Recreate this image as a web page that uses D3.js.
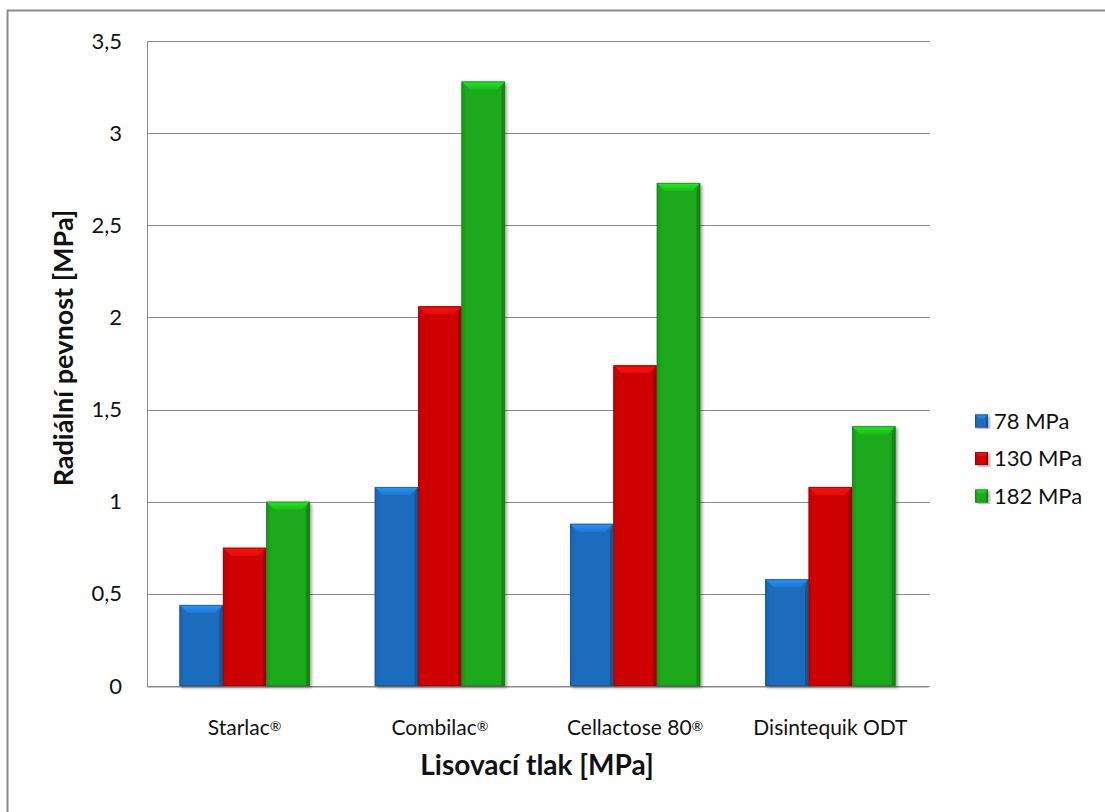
<!DOCTYPE html>
<html>
<head>
<meta charset="utf-8">
<script src="https://cdn.jsdelivr.net/npm/d3@7"></script>
<style>
  html, body { margin: 0; padding: 0; background: #fff; }
  svg { display: block; }
  text { font-family: Lato, "Open Sans", sans-serif; fill: #111; }
</style>
</head>
<body>
<svg id="chart" width="1105" height="812"></svg>
<script>
// Radial tensile strength of tablets by filler and compression pressure
const categories = ["Starlac®", "Combilac®", "Cellactose 80®", "Disintequik ODT"];
const seriesNames = ["78 MPa", "130 MPa", "182 MPa"];
const values78 = [0.44, 1.08, 0.88, 0.58];
const values130 = [0.75, 2.06, 1.74, 1.08];
const values182 = [1.00, 3.28, 2.73, 1.41];
const yTicks = [0, 0.5, 1, 1.5, 2, 2.5, 3, 3.5];
const seriesColors = ["#1d6cbd", "#cf0606", "#1aaa1a"];

const seriesValues = [values78, values130, values182];

const svg = d3.select("#chart");
const W = 1105, H = 812;
const plot = { left: 147, right: 928, top: 41, bottom: 686 };

// Outer chart frame (runs off the right and bottom edges)
svg.append("rect")
  .attr("x", 7.5).attr("y", 10.5)
  .attr("width", W + 10).attr("height", H + 10)
  .attr("fill", "#fff")
  .attr("stroke", "#8a8a8a").attr("stroke-width", 2);

const x0 = d3.scaleBand().domain(categories)
  .range([plot.left, plot.right])
  .paddingInner(1 / 3).paddingOuter(1 / 6);
const x1 = d3.scaleBand().domain(seriesNames).range([0, x0.bandwidth()]);
const y = d3.scaleLinear().domain([0, 3.5]).range([plot.bottom, plot.top]);

// Gridlines
svg.append("g").selectAll("line").data(yTicks).join("line")
  .attr("x1", plot.left).attr("x2", plot.right + 2)
  .attr("y1", d => Math.round(y(d)) + 0.5).attr("y2", d => Math.round(y(d)) + 0.5)
  .attr("stroke", "#8c8c8c").attr("stroke-width", 1);

// Y axis
const yAxis = d3.axisLeft(y).tickValues(yTicks)
  .tickFormat(d => String(d).replace(".", ",")).tickSize(0).tickPadding(25);
const gy = svg.append("g").attr("transform", `translate(${plot.left},0)`).call(yAxis);
gy.select(".domain").attr("stroke", "#8c8c8c");
gy.selectAll("text").style("font-size", "22px").style("font-family", "Lato, sans-serif").attr("fill", "#111");

// X axis; the registered mark is set smaller and raised
const xAxis = d3.axisBottom(x0).tickSize(0).tickPadding(34).tickFormat(() => "");
const gx = svg.append("g").attr("transform", `translate(0,${plot.bottom + 0.5})`).call(xAxis);
gx.select(".domain").attr("stroke", "#8c8c8c");
gx.selectAll(".tick text").each(function(d) {
  const t = d3.select(this).style("font-size", "21px").style("font-family", "Lato, sans-serif").attr("fill", "#111");
  const parts = d.split("®");
  t.append("tspan").text(parts[0]);
  if (parts.length > 1) {
    t.append("tspan").attr("dy", "-0.3em").style("font-size", "14px").text("®");
  }
});

// Gradients for the bevelled bars
const defs = svg.append("defs");
const f = defs.append("filter").attr("id", "shadow").attr("x", "-20%").attr("y", "-5%").attr("width", "140%").attr("height", "115%");
f.append("feGaussianBlur").attr("in", "SourceAlpha").attr("stdDeviation", 1.6).attr("result", "b");
f.append("feOffset").attr("in", "b").attr("dx", 1.5).attr("dy", 1.5).attr("result", "o");
f.append("feComponentTransfer").attr("in", "o").attr("result", "s")
  .append("feFuncA").attr("type", "linear").attr("slope", 0.35);
const fm = f.append("feMerge");
fm.append("feMergeNode").attr("in", "s");
fm.append("feMergeNode").attr("in", "SourceGraphic");

seriesColors.forEach((c, i) => {
  const base = d3.color(c);
  const g = defs.append("linearGradient").attr("id", "body" + i)
    .attr("x1", "0").attr("x2", "1").attr("y1", "0").attr("y2", "0");
  g.append("stop").attr("offset", "0").attr("stop-color", base.darker(0.35));
  g.append("stop").attr("offset", "0.08").attr("stop-color", base);
  g.append("stop").attr("offset", "0.9").attr("stop-color", base);
  g.append("stop").attr("offset", "1").attr("stop-color", base.darker(0.6));
  const t = defs.append("linearGradient").attr("id", "top" + i)
    .attr("x1", "0").attr("x2", "0").attr("y1", "0").attr("y2", "1");
  t.append("stop").attr("offset", "0").attr("stop-color", base.brighter(0.9));
  t.append("stop").attr("offset", "1").attr("stop-color", base.brighter(0.25));
});

function bevelBar(sel, bx, by, bw, bh, i, bev) {
  const base = d3.color(seriesColors[i]);
  const g = sel.append("g").attr("filter", "url(#shadow)");
  g.append("rect").attr("x", bx).attr("y", by).attr("width", bw).attr("height", bh)
    .attr("fill", `url(#body${i})`);
  const b = Math.min(bev, bh / 2, bw / 3);
  // top bevel face
  g.append("path")
    .attr("d", `M${bx},${by}L${bx + bw},${by}L${bx + bw - b},${by + b}L${bx + b},${by + b}Z`)
    .attr("fill", `url(#top${i})`);
  // left and right bevel faces
  g.append("path")
    .attr("d", `M${bx},${by}L${bx + b * 0.45},${by + b}L${bx + b * 0.45},${by + bh}L${bx},${by + bh}Z`)
    .attr("fill", base.darker(0.15));
  g.append("path")
    .attr("d", `M${bx + bw},${by}L${bx + bw - b * 0.45},${by + b}L${bx + bw - b * 0.45},${by + bh}L${bx + bw},${by + bh}Z`)
    .attr("fill", base.darker(0.7));
  g.append("rect").attr("x", bx + 0.5).attr("y", by + 0.5).attr("width", bw - 1).attr("height", bh - 1)
    .attr("fill", "none").attr("stroke", base.darker(0.9)).attr("stroke-width", 1).attr("stroke-opacity", 0.6);
}

// Bars
const barLayer = svg.append("g");
categories.forEach((cat, ci) => {
  seriesNames.forEach((s, si) => {
    const v = seriesValues[si][ci];
    const bx = x0(cat) + x1(s);
    const by = y(v);
    bevelBar(barLayer, bx, by, x1.bandwidth(), y(0) - by, si, 8);
  });
});

// Legend
const legend = svg.append("g").attr("transform", "translate(975,421)");
seriesNames.forEach((s, i) => {
  const row = legend.append("g").attr("transform", `translate(0,${i * 37.5})`);
  bevelBar(row, 0, -6.5, 13, 13, i, 5);
  row.append("text").attr("x", 19).attr("y", 0).attr("dy", "0.36em")
    .style("font-size", "22px").text(s);
});

// Axis titles
svg.append("text")
  .attr("transform", `translate(73,348) rotate(-90)`)
  .attr("text-anchor", "middle")
  .style("font-size", "27px").style("font-weight", "bold")
  .text("Radiální pevnost [MPa]");

svg.append("text")
  .attr("x", 537).attr("y", 775)
  .attr("text-anchor", "middle")
  .style("font-size", "28px").style("font-weight", "bold")
  .text("Lisovací tlak [MPa]");
</script>
</body>
</html>
